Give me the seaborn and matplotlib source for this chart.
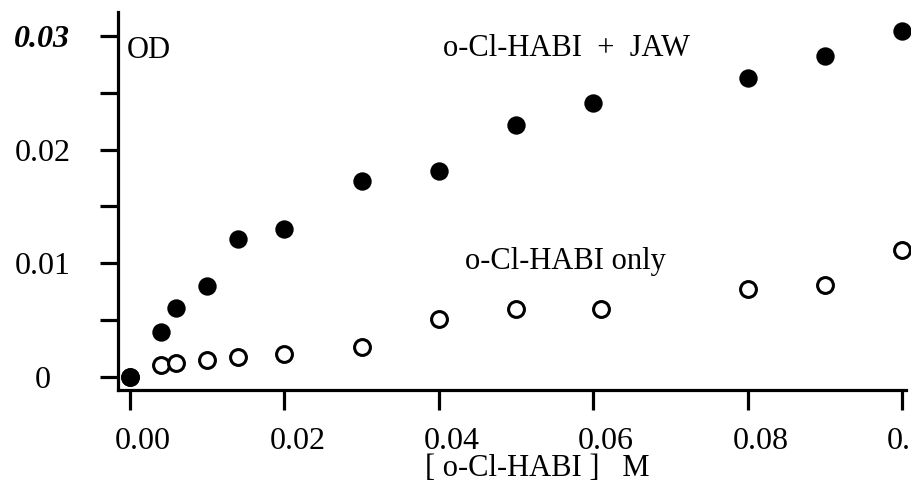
import seaborn as sns
import matplotlib.pyplot as plt
import matplotlib.transforms as mtransforms
from matplotlib.ticker import FixedLocator

# concentration of o-Cl-HABI (M) and optical density
conc_jaw = [0.0, 0.004, 0.006, 0.010, 0.014, 0.020, 0.030, 0.040, 0.050, 0.060, 0.080, 0.090, 0.100]
od_jaw = [0.0, 0.0040, 0.0061, 0.0080, 0.0121, 0.0130, 0.0172, 0.0181, 0.0222, 0.0241, 0.0263, 0.0282, 0.0304]

conc_only = [0.0, 0.004, 0.006, 0.010, 0.014, 0.020, 0.030, 0.040, 0.050, 0.061, 0.080, 0.090, 0.100]
od_only = [0.0, 0.0011, 0.0012, 0.0015, 0.0018, 0.0020, 0.0026, 0.0051, 0.0060, 0.0060, 0.0077, 0.0081, 0.0112]

x_ticks = [0.00, 0.02, 0.04, 0.06, 0.08, 0.10]
x_labels = ["0.00", "0.02", "0.04", "0.06", "0.08", "0.10"]
y_ticks = [0.0, 0.01, 0.02, 0.03]
y_labels = ["0", "0.01", "0.02", "0.03"]

sns.set_style("ticks")
plt.rcParams["font.family"] = ["Liberation Serif", "DejaVu Serif"]
plt.rcParams["text.color"] = "black"
plt.rcParams["xtick.color"] = "black"
plt.rcParams["ytick.color"] = "black"

W, H = 911, 501
fig = plt.figure(figsize=(W / 100, H / 100), dpi=100)
ax = fig.add_axes([118 / W, 1 - 390 / H, (906 - 118) / W, (390 - 12) / H])

sns.scatterplot(x=conc_only, y=od_only, ax=ax, marker="o", s=130,
                facecolor="white", edgecolor="black", linewidth=2.2, clip_on=False, zorder=3)
sns.scatterplot(x=conc_jaw, y=od_jaw, ax=ax, marker="o", s=175,
                color="black", edgecolor="black", linewidth=0, clip_on=False, zorder=4)

ax.set_xlim(-0.00155, 0.10052)
ax.set_ylim(-0.00114, 0.0321)

sns.despine(ax=ax)
for side in ["left", "bottom"]:
    ax.spines[side].set_linewidth(2.3)
    ax.spines[side].set_color("black")

ax.set_xticks(x_ticks)
ax.set_xticklabels(x_labels)
ax.set_yticks(y_ticks)
ax.set_yticklabels(y_labels)
ax.yaxis.set_minor_locator(FixedLocator([0.005, 0.015, 0.025]))

ax.tick_params(axis="y", which="both", length=13, width=2.3,
               direction="out", pad=41.5, labelsize=23)
ax.tick_params(axis="x", which="major", length=14.5, width=2.3,
               direction="out", pad=12, labelsize=23)
for lab in ax.get_yticklabels():
    lab.set_horizontalalignment("center")
ax.get_yticklabels()[-1].set_fontweight("bold")
ax.get_yticklabels()[-1].set_fontstyle("italic")

shift = mtransforms.ScaledTranslation(13 / 100, 0, fig.dpi_scale_trans)
for lab in ax.get_xticklabels():
    lab.set_transform(lab.get_transform() + shift)

ax.set_xlabel("")
ax.set_ylabel("")

fig.text(127 / W, 1 - 50 / H, "OD", ha="left", va="center", fontsize=22)
fig.text(443 / W, 1 - 49 / H, "o-Cl-HABI  +  JAW", ha="left", va="center", fontsize=22)
fig.text(465 / W, 1 - 261 / H, "o-Cl-HABI only", ha="left", va="center", fontsize=22)
fig.text(425 / W, 1 - 468 / H, "[ o-Cl-HABI ]   M", ha="left", va="center", fontsize=22)

fig.savefig("out.png", dpi=100)
